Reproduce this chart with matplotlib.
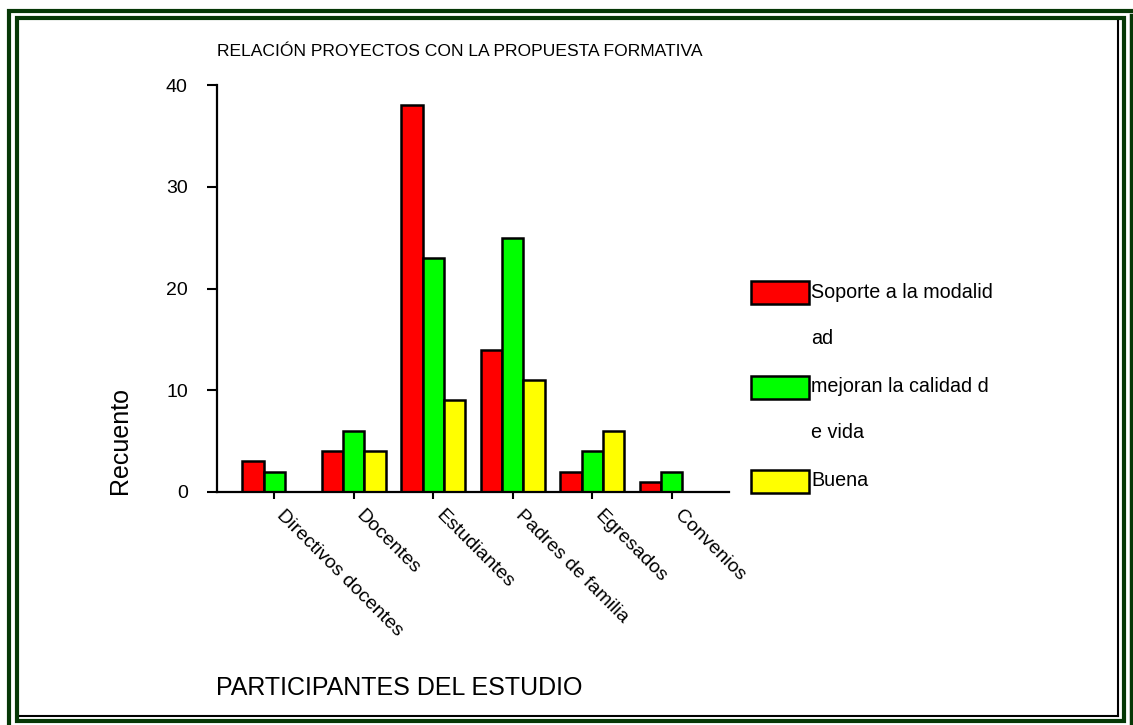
import numpy as np
import matplotlib
matplotlib.use("Agg")
import matplotlib.pyplot as plt
import matplotlib.transforms as mtransforms
from matplotlib.patches import Rectangle
from matplotlib.lines import Line2D

plt.rcParams['font.family'] = ['Liberation Sans', 'DejaVu Sans']

# data
categories = ['Directivos docentes', 'Docentes', 'Estudiantes',
              'Padres de familia', 'Egresados', 'Convenios']
series_names = ['Soporte a la modalid\nad', 'mejoran la calidad d\ne vida', 'Buena']
soporte = [3, 4, 38, 14, 2, 1]
mejoran = [2, 6, 23, 25, 4, 2]
buena = [0, 4, 9, 11, 6, 0]
colors = ['#ff0000', '#00ff00', '#ffff00']

W, H = 1133, 725
fig = plt.figure(figsize=(W / 100, H / 100), dpi=100)

def px(x, y):
    return x / W, 1 - y / H

ax = fig.add_axes([217 / W, 1 - 492 / H, (729 - 217) / W, (492 - 85) / H])

x = np.arange(len(categories))
bw = 0.268
for i, (vals, c) in enumerate(zip([soporte, mejoran, buena], colors)):
    ax.bar(x + (i - 1) * bw, vals, bw, color=c, edgecolor='black', linewidth=1.8)

ax.set_xlim(-0.72, 5.72)
ax.set_ylim(0, 40)
ax.set_yticks([0, 10, 20, 30, 40])
ax.set_xticks(x)
ax.set_xticklabels(categories, rotation=-45, ha='left', va='top',
                   rotation_mode='anchor', fontsize=14)
ax.tick_params(axis='y', length=7, width=1.5, labelsize=14, pad=14)
ax.tick_params(axis='x', length=5, width=1.5, pad=6)
for s in ['top', 'right']:
    ax.spines[s].set_visible(False)
for s in ['left', 'bottom']:
    ax.spines[s].set_linewidth(1.6)
shift = mtransforms.ScaledTranslation(11 / 100, 0, fig.dpi_scale_trans)
for lab in ax.get_xticklabels():
    lab.set_transform(lab.get_transform() + shift)

# titles
fig.text(*px(217, 52), 'RELACIÓN PROYECTOS CON LA PROPUESTA FORMATIVA',
         fontsize=12.6, ha='left', va='center')
fig.text(*px(216, 688), 'PARTICIPANTES DEL ESTUDIO', fontsize=18,
         ha='left', va='center')
fig.text(*px(120, 440), 'Recuento', fontsize=18, rotation=90,
         ha='center', va='center')

# legend
legend_y = [293, 387, 481]
for yc, c, name in zip(legend_y, colors, series_names):
    fig.add_artist(Rectangle(px(751, yc + 11.5), 58 / W, 23 / H, transform=fig.transFigure,
                             facecolor=c, edgecolor='black', linewidth=1.8))
    fig.text(*px(811, yc - 10), name, fontsize=14.2, ha='left', va='top',
             linespacing=2.8)

# frame
green = '#063806'
fig.add_artist(Rectangle(px(9, 1000), (1200 - 9) / W, (1000 - 10.5) / H,
                         transform=fig.transFigure, fill=False,
                         edgecolor=green, linewidth=3))
fig.add_artist(Rectangle(px(16.5, 720.5), (1124 - 16.5) / W, (720.5 - 18) / H,
                         transform=fig.transFigure, fill=False,
                         edgecolor=green, linewidth=3))
fig.add_artist(Line2D([1118 / W, 1118 / W], [1 - 21 / H, 1 - 716 / H],
                      transform=fig.transFigure, color='black', linewidth=1.5))
fig.add_artist(Line2D([20 / W, 1118 / W], [1 - 716 / H, 1 - 716 / H],
                      transform=fig.transFigure, color='black', linewidth=1.5))
fig.add_artist(Line2D([1131 / W, 1131 / W], [1 - 15 / H, 0],
                      transform=fig.transFigure, color=green, linewidth=2.5))

fig.savefig('out.png', dpi=100)
